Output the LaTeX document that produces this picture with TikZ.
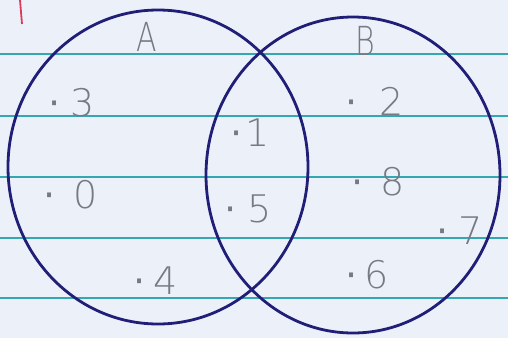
\documentclass[tikz,border=0pt]{standalone}
\usepackage{fontspec}
\setmainfont{DejaVu Sans}
\newfontfamily\thinfont{DejaVu Sans ExtraLight}
\usetikzlibrary{shapes.geometric}
\definecolor{paper}{RGB}{236,241,249}
\definecolor{rule}{RGB}{52,168,178}
\definecolor{ink}{RGB}{32,30,118}
\definecolor{pencil}{RGB}{118,122,132}
\definecolor{margin}{RGB}{220,60,90}
\tikzset{
  setcircle/.style={ellipse, draw=ink, line width=2.8pt, inner sep=0pt},
  ruleline/.style={draw=rule, line width=1.6pt},
  elem/.style={text=pencil, font=\thinfont\fontsize{38}{40}\selectfont, inner sep=0pt},
  setname/.style={text=pencil, font=\thinfont\fontsize{40}{42}\selectfont, inner sep=0pt, xscale=0.75},
}
\newcommand{\elt}[2]{{\fontspec{DejaVu Sans}·}\kern#1pt #2}
\begin{document}
\begin{tikzpicture}[x=1pt,y=-1pt]
\fill[paper] (0,0) rectangle (508,338);
\useasboundingbox (0,0) rectangle (508,338);
\foreach \yy in {54,116,177,238,298} {\draw[ruleline] (0,\yy) -- (508,\yy);}
\draw[margin, line width=1.8pt] (20,0) -- (22,24);
\node[setcircle, minimum width=300pt, minimum height=314pt] (A) at (158,167) {};
\node[setcircle, minimum width=294pt, minimum height=316pt] (B) at (353,175) {};
\node[setname] (lA) at (147,37) {A};
\node[setname] (lB) at (365,41) {B};
\node[elem] (e3) at (72,103) {\elt{10}{3}};
\node[elem] (e0) at (71,195) {\elt{18}{0}};
\node[elem] (e4) at (156,281) {\elt{8}{4}};
\node[elem] (e1) at (250.5,133) {\elt{3}{1}};
\node[elem] (e5) at (248.5,209) {\elt{11}{5}};
\node[elem] (e2) at (375,101) {\elt{22}{2}};
\node[elem] (e8) at (378.5,182) {\elt{17}{8}};
\node[elem] (e7) at (460,231) {\elt{10}{7}};
\node[elem] (e6) at (367.5,275) {\elt{7}{6}};
\end{tikzpicture}
\end{document}
